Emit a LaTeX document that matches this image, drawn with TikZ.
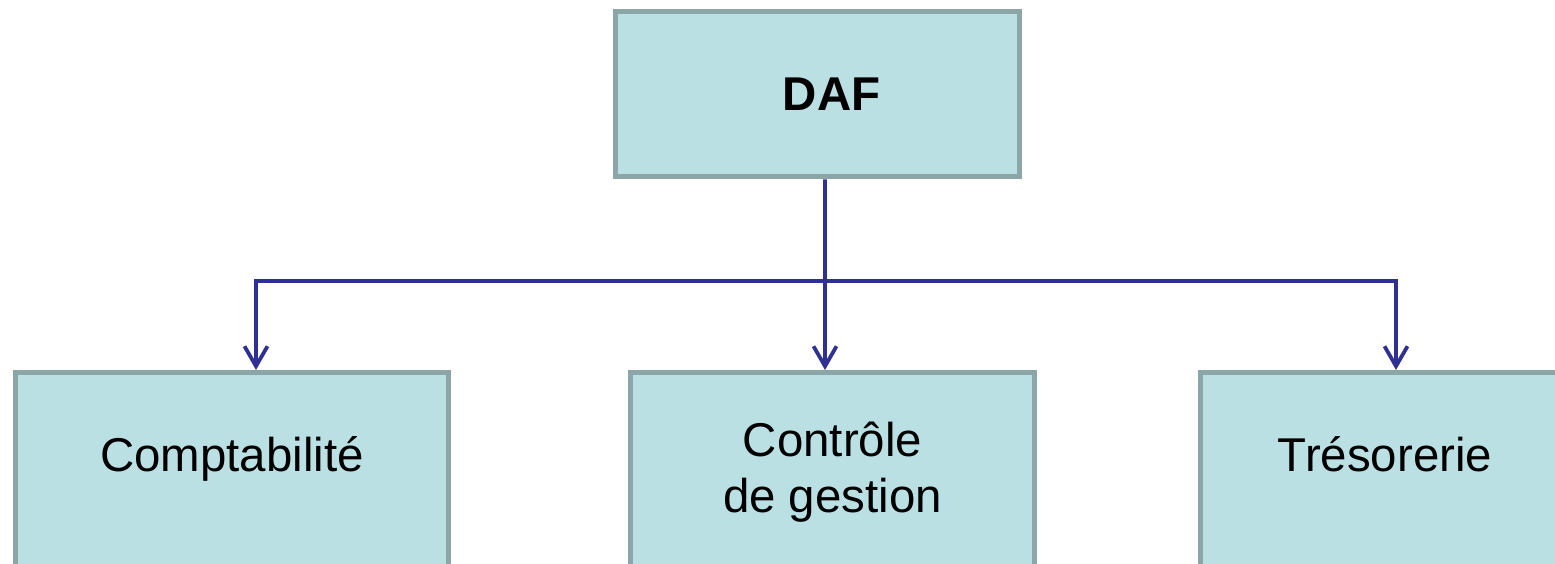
\documentclass[tikz,border=0pt]{standalone}
\usepackage{fontspec}
\setmainfont{Liberation Sans}
\usepackage{tikz}
\usetikzlibrary{arrows.meta}
\definecolor{boxfill}{HTML}{BBE0E3}
\definecolor{boxline}{HTML}{8CA6A8}
\definecolor{linkblue}{HTML}{2E3192}
\tikzstyle{service}=[rectangle,draw=boxline,fill=boxfill,line width=0.1cm,align=center,inner sep=0pt,font=\fontsize{27}{32}\selectfont]
\tikzstyle{unit}=[service,anchor=north,minimum height=4.6cm,text height=0.4cm,text depth=1.04cm]
\tikzstyle{link} = [draw=linkblue, line width=0.075cm, -{Straight Barb[length=0.4cm,width=0.46cm]}]

\begin{document}
\begin{tikzpicture}[x=0.02cm,y=-0.02cm]
  \useasboundingbox (0,0) rectangle (1555,564);
  \clip (0,0) rectangle (1555,564);

  \node[service,minimum width=8.1cm,minimum height=3.32cm] (daf) at (817.5,94) {\hspace*{0.56cm}\textbf{DAF}};
  \node[unit,minimum width=8.68cm] (compta) at (232,370) {Comptabilité};
  \node[unit,minimum width=8.1cm,text height=1.4cm,text depth=0.4cm] (controle) at (832.5,370) {Contrôle\\de gestion};
  \node[unit,minimum width=7.4cm] (treso) at (1385,370) {Trésorerie};

  % links
  \coordinate (bus) at (825,281);
  \draw[link] ([xshift=0.15cm]daf.south) -- ([xshift=-0.15cm]controle.north);
  \draw[link] (bus) -| ([xshift=0.48cm]compta.north);
  \draw[link] (bus) -| ([xshift=0.22cm]treso.north);
\end{tikzpicture}
\end{document}
